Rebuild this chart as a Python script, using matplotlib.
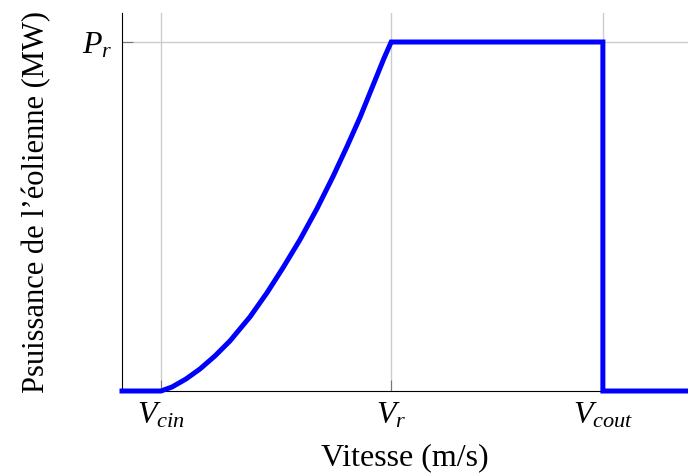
import numpy as np
import matplotlib
matplotlib.use("Agg")
import matplotlib.pyplot as plt

plt.rcParams['font.family'] = ['Liberation Serif', 'DejaVu Serif']
plt.rcParams['mathtext.fontset'] = 'custom'
plt.rcParams['mathtext.rm'] = 'Liberation Serif'
plt.rcParams['mathtext.it'] = 'Liberation Serif:italic'

# vitesses caracteristiques (unites arbitraires)
v_cin = 1.7
v_r = 11.7
v_cout = 20.9
v_max = 24.6
p_r = 1.0

v_ramp = [1.696, 2.174, 2.783, 3.391, 4.043, 4.696, 5.565, 6.304, 7.0,
          7.739, 8.478, 9.174, 9.783, 10.348, 10.913, 11.391, 11.70]
p_ramp = [0.0, 0.0115, 0.0345, 0.0632, 0.1006, 0.1437, 0.2126, 0.2816, 0.3534,
          0.4339, 0.5230, 0.6149, 0.7011, 0.7845, 0.8764, 0.9540, 1.0]

v = [0.0] + v_ramp + [v_cout, v_cout, v_max]
p = [0.0] + p_ramp + [p_r, 0.0, 0.0]

tick_pos = [v_cin, v_r, v_cout]
tick_lab = [r'$V_{cin}$', r'$V_r$', r'$V_{cout}$']

fig = plt.figure(figsize=(6.88, 4.75), dpi=100)
ax = fig.add_axes([122/688, 1 - 391/475, 1 - 122/688, (391 - 13)/475])

ax.plot(v, p, color='blue', lw=3.6, solid_joinstyle='miter', clip_on=False, zorder=5)

ax.set_xlim(0, v_max)
ax.set_ylim(0, 378/349)
ax.set_xticks(tick_pos)
ax.set_xticklabels(tick_lab, fontsize=23)
ax.set_yticks([p_r])
ax.set_yticklabels([r'$P_r$'], fontsize=23)
ax.grid(True, color='#cccccc', lw=1)
ax.tick_params(direction='in', length=8, color='#777777', pad=7)

ax.spines['top'].set_visible(False)
ax.spines['right'].set_visible(False)

ax.set_xlabel('Vitesse (m/s)', fontsize=23, labelpad=9)
ax.set_ylabel('Psuissance de l’éolienne (MW)', fontsize=22, labelpad=22)

fig.savefig('out.png', dpi=100)
